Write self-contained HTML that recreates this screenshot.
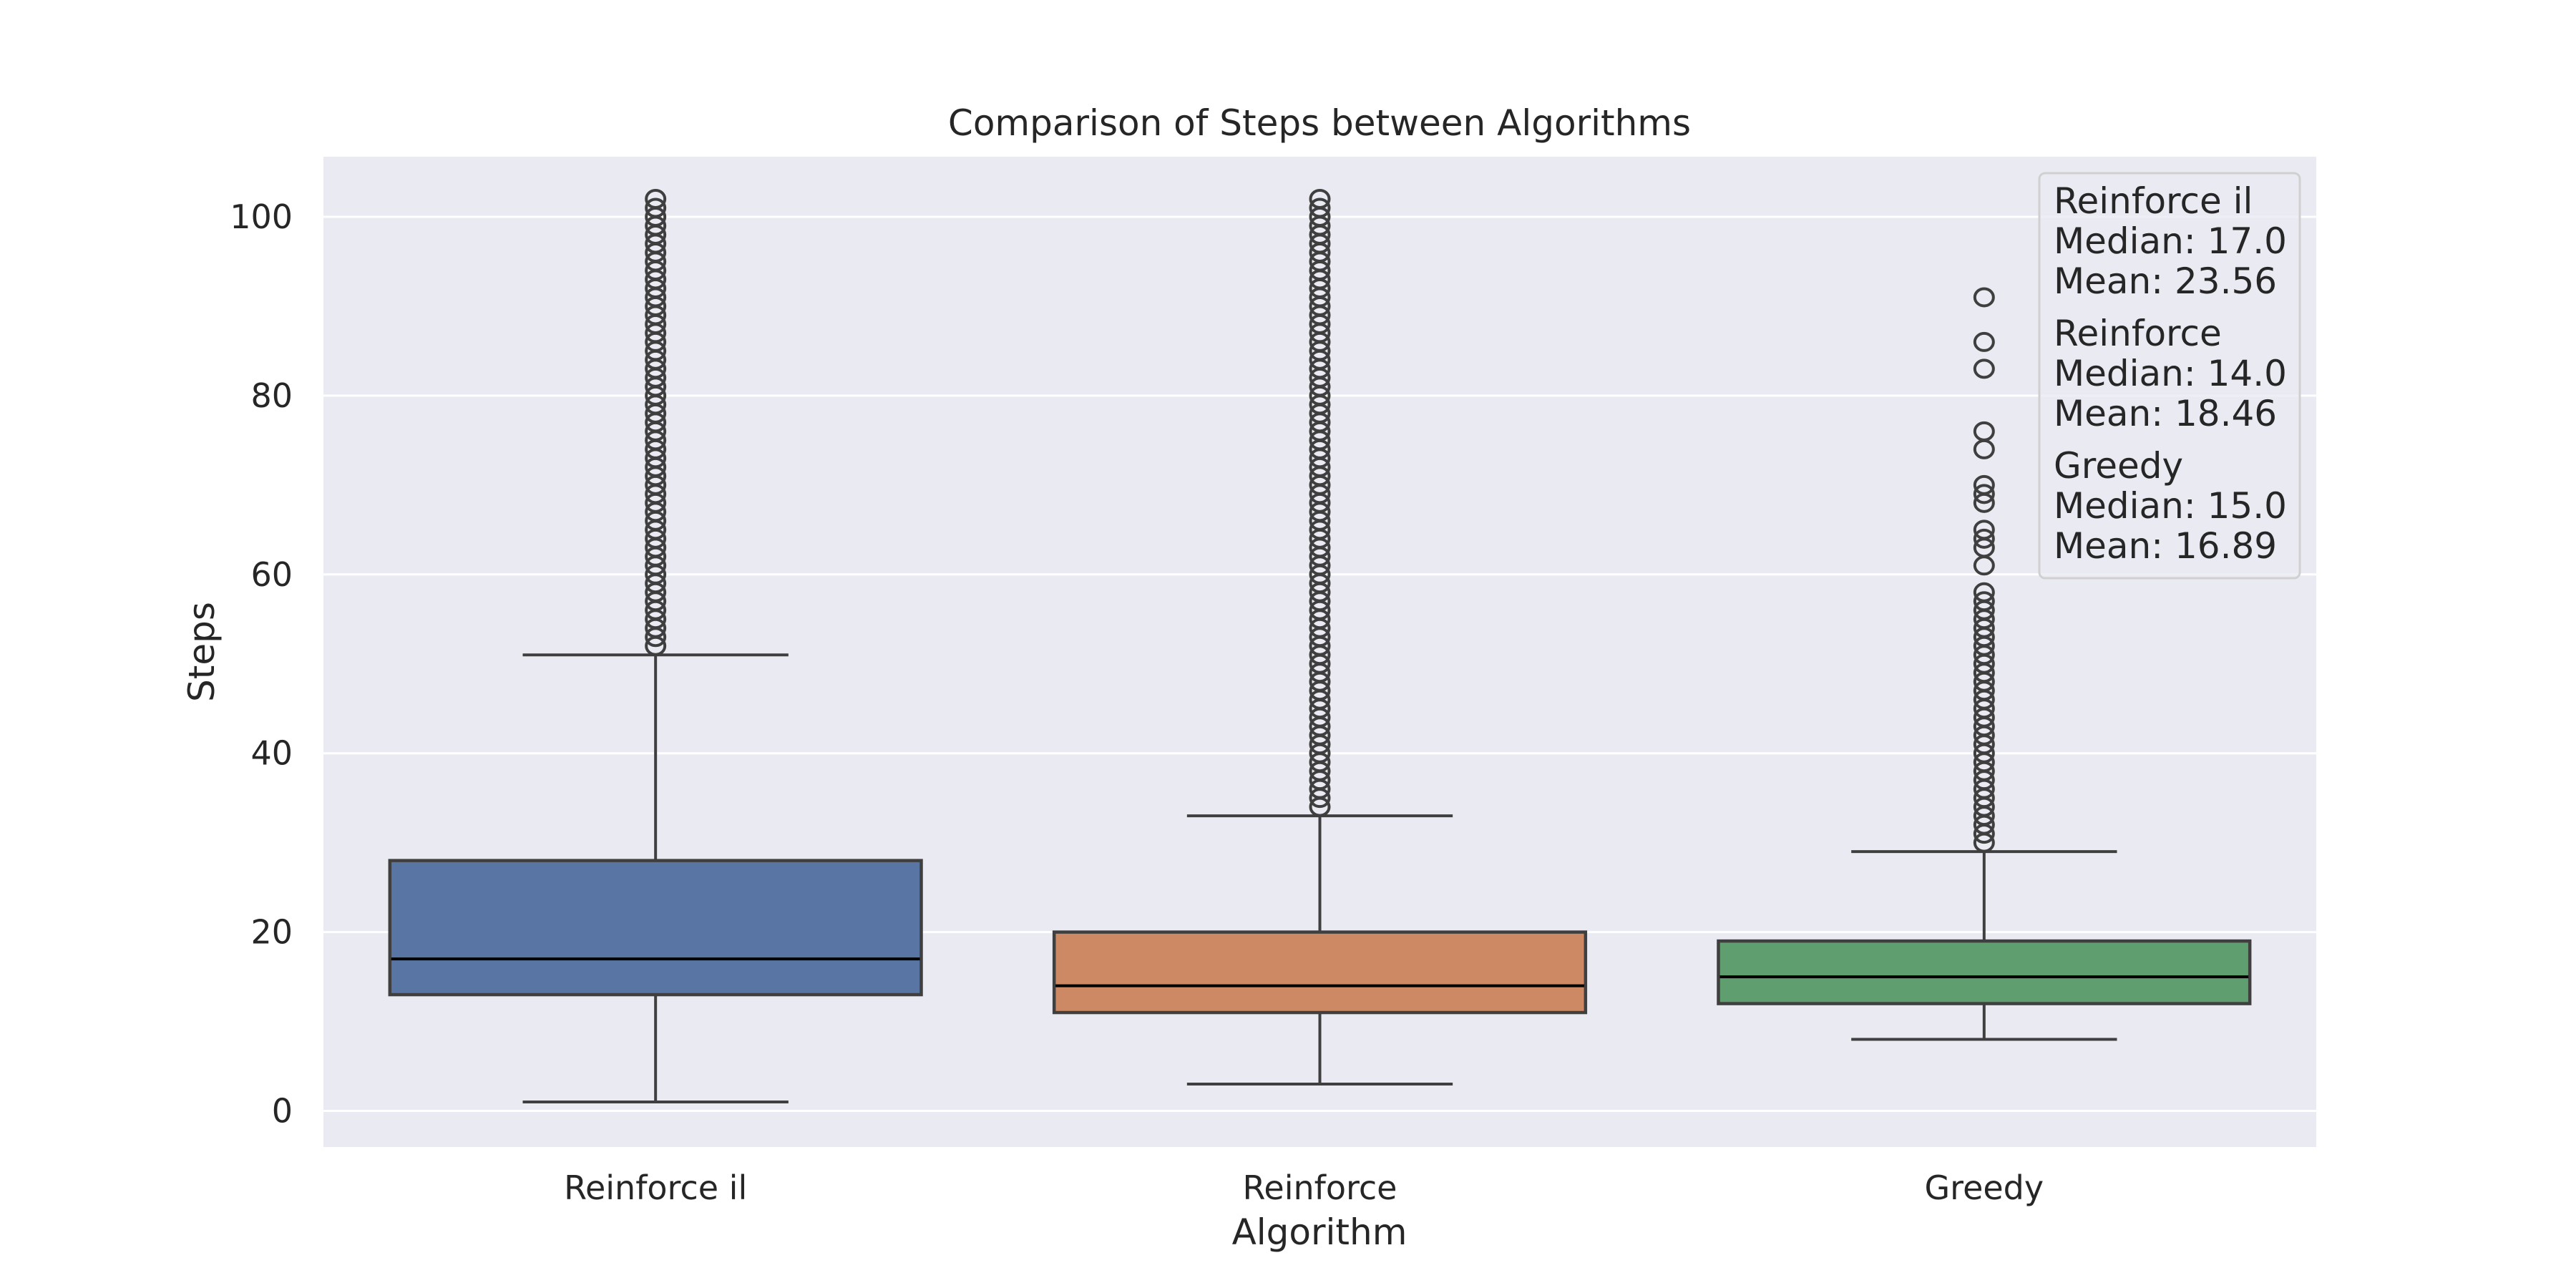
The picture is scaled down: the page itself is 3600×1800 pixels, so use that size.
<!DOCTYPE html>
<html><head><meta charset="utf-8"><style>
html,body{margin:0;padding:0;background:#fff;}
svg{display:block;font-family:"DejaVu Sans","Liberation Sans",sans-serif;}
</style></head><body>
<svg id="chart" width="3600" height="1800" viewBox="0 0 3600 1800" xmlns="http://www.w3.org/2000/svg">
<rect x="0" y="0" width="3600" height="1800" fill="#ffffff"/>
<rect x="452" y="219" width="2785" height="1384" fill="#eaeaf2"/>
<g id="grid"></g>
<g id="boxes"></g>
<text x="1844" y="172" font-size="50" fill="#262626" text-anchor="middle" dominant-baseline="central">Comparison of Steps between Algorithms</text>
<text x="1844" y="1722" font-size="50" fill="#262626" text-anchor="middle" dominant-baseline="central">Algorithm</text>
<text x="282" y="911" font-size="50" fill="#262626" text-anchor="middle" dominant-baseline="central" transform="rotate(-90 282 911)">Steps</text>
<g id="legend">
<rect x="2850" y="242" width="364" height="566" rx="8" fill="#eaeaf2" fill-opacity="0.8" stroke="#d0d0d0" stroke-width="3"/>
</g>
</svg>
<script>
const categories = ["Reinforce il", "Reinforce", "Greedy"];
const whiskerLow = [1, 3, 8];
const q1 = [13, 11, 12];
const median = [17, 14, 15];
const q3 = [28, 20, 19];
const whiskerHigh = [51, 33, 29];
const means = [23.56, 18.46, 16.89];
const outliers0 = [];
for (let v = 52; v <= 102; v++) outliers0.push(v);
const outliers1 = [];
for (let v = 34; v <= 102; v++) outliers1.push(v);
const outliers2 = [30,31,32,33,34,35,36,37,38,39,40,41,42,43,44,45,46,47,48,49,50,51,52,53,54,55,56,57,58,61,63,64,65,68,69,70,74,76,83,86,91];
const outlierSets = [outliers0, outliers1, outliers2];
const yTicks = [0, 20, 40, 60, 80, 100];
const colors = ["#5875a4", "#cc8963", "#5f9e6e"];

const NS = "http://www.w3.org/2000/svg";
const PX0 = 452, PW = 2785;
function y(v){ return 1552.5 - v * (1552.5 - 303) / 100; }
function xc(i){ return PX0 + (i + 0.5) * PW / categories.length; }
const band = PW / categories.length;
function mk(tag, attrs, parent){
  const e = document.createElementNS(NS, tag);
  for (const k in attrs) e.setAttribute(k, attrs[k]);
  parent.appendChild(e);
  return e;
}
const svg = document.getElementById('chart');
const grid = document.getElementById('grid');
yTicks.forEach(t => {
  const l = mk('line', {x1: PX0, x2: PX0 + PW, y1: y(t), y2: y(t), stroke: '#ffffff', 'stroke-width': 3}, grid);
  
  
  const tx = mk('text', {x: 409, y: y(t), 'font-size': 46, fill: '#262626', 'text-anchor': 'end', 'dominant-baseline': 'central'}, svg);
  tx.textContent = t;
  
  
});
const boxes = document.getElementById('boxes');
categories.forEach((c, i) => {
  const cx = xc(i), bw = band * 0.8, cw = band * 0.4;
  const g = mk('g', {}, boxes);
  
  
  const st = {stroke: '#3f3f3f', 'stroke-width': 4};
  mk('line', Object.assign({x1: cx, x2: cx, y1: y(q3[i]), y2: y(whiskerHigh[i])}, st), g);
  mk('line', Object.assign({x1: cx, x2: cx, y1: y(q1[i]), y2: y(whiskerLow[i])}, st), g);
  const cap1 = mk('line', Object.assign({x1: cx - cw/2, x2: cx + cw/2, y1: y(whiskerHigh[i]), y2: y(whiskerHigh[i])}, st), g);
  
  
  const cap2 = mk('line', Object.assign({x1: cx - cw/2, x2: cx + cw/2, y1: y(whiskerLow[i]), y2: y(whiskerLow[i])}, st), g);
  
  
  const r = mk('rect', {x: cx - bw/2, y: y(q3[i]), width: bw, height: y(q1[i]) - y(q3[i]), fill: colors[i], stroke: '#3f3f3f', 'stroke-width': 4.5}, g);
  
  
  const m = mk('line', {x1: cx - bw/2 + 2, x2: cx + bw/2 - 2, y1: y(median[i]), y2: y(median[i]), stroke: '#000000', 'stroke-width': 4}, g);
  
  
  outlierSets[i].forEach(v => {
    const o = mk('ellipse', {cx: cx, cy: y(v), rx: 13, ry: 12, fill: 'none', stroke: '#3f3f3f', 'stroke-width': 4}, g);
    
    
  });
  const lbl = mk('text', {x: cx, y: 1660, 'font-size': 46, fill: '#262626', 'text-anchor': 'middle', 'dominant-baseline': 'central'}, svg);
  lbl.textContent = c;
  
  
});
const legend = document.getElementById('legend');
categories.forEach((c, i) => {
  const lines = [c, 'Median: ' + median[i].toFixed(1), 'Mean: ' + means[i].toFixed(2)];
  lines.forEach((s, j) => {
    const t = mk('text', {x: 2870, y: 281 + i * 185 + j * 56, 'font-size': 50, fill: '#262626', 'dominant-baseline': 'central'}, legend);
    t.textContent = s;
    
    
  });
});
</script>
</body></html>
